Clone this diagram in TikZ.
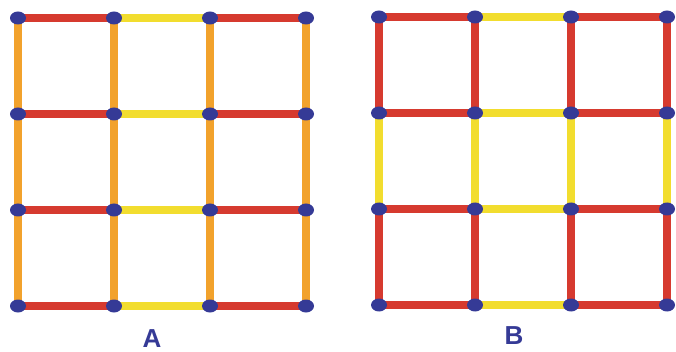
\documentclass[tikz,border=0pt]{standalone}
\usepackage{fontspec}
\setsansfont{Liberation Sans}
\usetikzlibrary{calc}

\definecolor{barred}{HTML}{D63A2F}
\definecolor{barorange}{HTML}{F2A22C}
\definecolor{baryellow}{HTML}{F2DD2E}
\definecolor{dotblue}{HTML}{353A96}

\tikzset{
    bar/.style={line width=7.5pt},
    dot/.style={fill=dotblue},
    lbl/.style={text=dotblue, inner sep=0pt, font=\sffamily\bfseries\fontsize{26}{26}\selectfont}
}

\begin{document}
\begin{tikzpicture}[x=1pt, y=-1pt]
    \useasboundingbox (0,0) rectangle (676,352);

    \foreach \i in {0,...,3}
        \foreach \j in {0,...,3} {
            \coordinate (A\i\j) at ({18+96*\i}, {18+96*\j});
            \coordinate (B\i\j) at ({379+96*\i}, {17+96*\j});
        }

    % horizontal bars, same in both grids
    \foreach \j in {0,...,3} {
        \draw[bar, barred] (A0\j) -- (A1\j);
        \draw[bar, baryellow] (A1\j) -- (A2\j);
        \draw[bar, barred] (A2\j) -- (A3\j);
        \draw[bar, barred] (B0\j) -- (B1\j);
        \draw[bar, baryellow] (B1\j) -- (B2\j);
        \draw[bar, barred] (B2\j) -- (B3\j);
    }

    % vertical bars
    \foreach \i in {0,...,3} {
        \draw[bar, barorange] (A\i0) -- (A\i3);
        \draw[bar, barred] (B\i0) -- (B\i1);
        \draw[bar, baryellow] (B\i1) -- (B\i2);
        \draw[bar, barred] (B\i2) -- (B\i3);
    }

    % joints
    \foreach \i in {0,...,3}
        \foreach \j in {0,...,3} {
            \fill[dot] (A\i\j) ellipse (8 and 6.5);
            \fill[dot] (B\i\j) ellipse (8 and 6.5);
        }

    \node[lbl] (labA) at (152, 339) {A};
    \node[lbl] (labB) at (514, 335.5) {B};
\end{tikzpicture}
\end{document}
